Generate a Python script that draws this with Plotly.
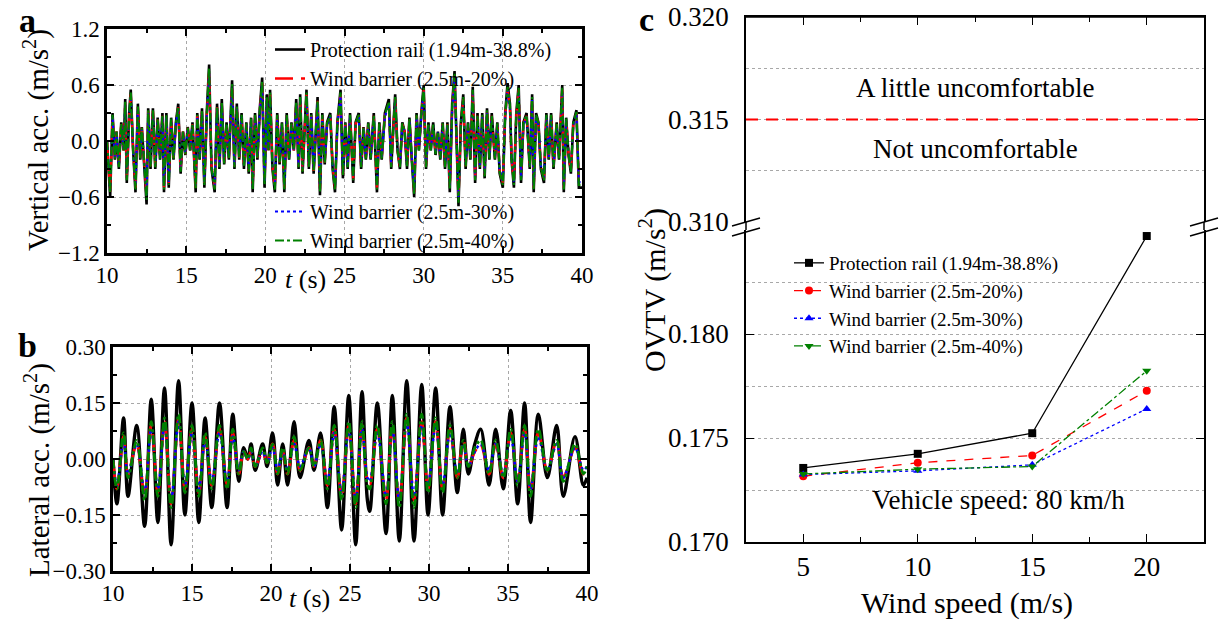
import plotly.graph_objects as go

SERIF = "Liberation Serif"
W, H = 1221, 622

def px(x):
    return x / W

def py(y):
    return 1 - y / H

names = ["Protection rail (1.94m-38.8%)", "Wind barrier (2.5m-20%)",
         "Wind barrier (2.5m-30%)", "Wind barrier (2.5m-40%)"]
colors = ["#000000", "#ff0000", "#0000ff", "#008000"]

# ---- panel a: vertical acceleration (local peaks / troughs)
ta = [10.0, 10.1, 10.2, 10.35, 10.5, 10.6, 10.75, 10.9, 11.05, 11.15,
      11.25, 11.4, 11.5, 11.65, 11.8, 11.95, 12.1, 12.2, 12.35, 12.5,
      12.6, 12.75, 12.9, 13.05, 13.2, 13.35, 13.5, 13.6, 13.75, 13.9,
      14.05, 14.2, 14.35, 14.5, 14.65, 14.8, 14.95, 15.1, 15.25, 15.4,
      15.6, 15.7, 15.85, 16.0, 16.15, 16.3, 16.45, 16.6, 16.8, 16.95,
      17.1, 17.25, 17.4, 17.55, 17.7, 17.9, 18.05, 18.2, 18.35, 18.5,
      18.65, 18.8, 18.95, 19.1, 19.2, 19.35, 19.5, 19.65, 19.8, 19.95,
      20.1, 20.2, 20.3, 20.45, 20.6, 20.75, 20.9, 21.05, 21.2, 21.35,
      21.5, 21.65, 21.8, 21.95, 22.1, 22.2, 22.35, 22.5, 22.6, 22.75,
      22.9, 23.05, 23.2, 23.3, 23.45, 23.6, 23.75, 23.9, 24.1, 24.25,
      24.4, 24.55, 24.75, 24.9, 25.05, 25.2, 25.35, 25.55, 25.7, 25.9,
      26.05, 26.2, 26.35, 26.5, 26.65, 26.85, 27.05, 27.2, 27.35, 27.55,
      27.8, 27.95, 28.1, 28.2, 28.35, 28.5, 28.65, 28.8, 28.95, 29.1,
      29.25, 29.4, 29.55, 29.7, 29.85, 30.0, 30.15, 30.3, 30.45, 30.6,
      30.75, 30.9, 31.05, 31.2, 31.35, 31.5, 31.65, 31.8, 31.95, 32.2,
      32.35, 32.5, 32.65, 32.8, 32.95, 33.1, 33.25, 33.4, 33.55, 33.7,
      33.85, 34.0, 34.15, 34.3, 34.5, 34.65, 34.8, 35.0, 35.15, 35.3,
      35.45, 35.55, 35.7, 35.85, 36.0, 36.15, 36.3, 36.5, 36.7, 36.85,
      36.95, 37.1, 37.25, 37.4, 37.6, 37.75, 37.9, 38.05, 38.2, 38.4,
      38.55, 38.75, 38.85, 39.0, 39.15, 39.3, 39.45, 39.65, 39.8, 40.0]

a_rail = [0.0, -0.35, -0.6, 0.3, -0.2, 0.1, -0.3, 0.2, -0.1, 0.45,
          -0.45, 0.3, 0.55, -0.1, -0.55, 0.4, -0.2, 0.15, -0.3, -0.68,
          0.35, -0.3, 0.35, -0.3, 0.25, -0.2, 0.3, -0.55, 0.3, -0.5,
          0.25, -0.2, 0.2, 0.4, -0.35, 0.1, -0.15, 0.15, -0.1, 0.2,
          -0.55, 0.3, -0.2, 0.35, -0.5, 0.3, 0.82, -0.3, -0.55, 0.4,
          -0.3, 0.45, -0.25, 0.2, -0.2, 0.65, -0.3, 0.4, -0.2, 0.3,
          -0.3, 0.2, -0.35, 0.25, -0.55, 0.3, -0.2, 0.35, 0.68, -0.5,
          0.5, -0.1, 0.55, -0.3, -0.55, 0.3, -0.25, 0.2, -0.55, 0.3,
          -0.2, 0.2, -0.1, 0.45, -0.3, 0.5, -0.35, 0.3, 0.55, -0.3,
          0.3, -0.35, 0.25, 0.47, -0.58, 0.3, -0.25, 0.2, 0.3, -0.3,
          -0.55, 0.2, 0.55, -0.4, 0.2, -0.3, 0.3, -0.45, 0.2, 0.3,
          -0.3, 0.15, -0.2, 0.2, -0.2, 0.3, -0.55, 0.2, -0.2, 0.3,
          0.45, -0.3, 0.2, 0.5, -0.1, -0.3, 0.2, 0.1, -0.3, 0.25,
          -0.2, -0.6, 0.3, -0.1, 0.3, 0.6, -0.3, 0.2, -0.1, 0.2,
          -0.15, 0.1, -0.2, 0.2, -0.3, 0.2, -0.55, 0.4, 0.75, -0.7,
          0.2, 0.5, -0.3, 0.2, -0.2, 0.58, -0.45, 0.3, -0.3, 0.3,
          -0.4, 0.35, -0.2, 0.3, -0.2, 0.2, -0.35, -0.5, 0.3, 0.62,
          0.4, -0.2, -0.5, 0.3, 0.6, -0.45, 0.2, 0.3, -0.3, 0.5,
          -0.55, 0.3, 0.2, -0.3, -0.45, 0.3, -0.2, 0.3, -0.3, 0.2,
          -0.2, 0.6, -0.55, 0.25, -0.15, -0.35, 0.2, 0.33, -0.5, -0.5]

a_20 = [0.0, -0.3, -0.55, 0.27, -0.18, 0.1, -0.27, 0.18, -0.1, 0.4,
        -0.4, 0.27, 0.5, -0.1, -0.5, 0.36, -0.18, 0.14, -0.27, -0.6,
        0.32, -0.27, 0.32, -0.27, 0.23, -0.18, 0.27, -0.5, 0.27, -0.45,
        0.23, -0.18, 0.18, 0.36, -0.32, 0.1, -0.14, 0.14, -0.1, 0.18,
        -0.5, 0.27, -0.18, 0.32, -0.45, 0.27, 0.75, -0.27, -0.5, 0.36,
        -0.27, 0.4, -0.23, 0.18, -0.18, 0.6, -0.27, 0.36, -0.18, 0.27,
        -0.27, 0.18, -0.32, 0.23, -0.5, 0.27, -0.18, 0.32, 0.62, -0.45,
        0.45, -0.1, 0.5, -0.27, -0.5, 0.27, -0.23, 0.18, -0.5, 0.27,
        -0.18, 0.18, -0.1, 0.4, -0.27, 0.45, -0.32, 0.27, 0.5, -0.27,
        0.27, -0.32, 0.23, 0.43, -0.52, 0.27, -0.23, 0.18, 0.27, -0.27,
        -0.5, 0.18, 0.5, -0.36, 0.18, -0.27, 0.27, -0.4, 0.18, 0.27,
        -0.27, 0.14, -0.18, 0.18, -0.18, 0.27, -0.5, 0.18, -0.18, 0.27,
        0.4, -0.27, 0.18, 0.45, -0.1, -0.27, 0.18, 0.1, -0.27, 0.23,
        -0.18, -0.55, 0.27, -0.1, 0.27, 0.55, -0.27, 0.18, -0.1, 0.18,
        -0.14, 0.1, -0.18, 0.18, -0.27, 0.18, -0.5, 0.36, 0.7, -0.62,
        0.18, 0.45, -0.27, 0.18, -0.18, 0.52, -0.4, 0.27, -0.27, 0.27,
        -0.36, 0.32, -0.18, 0.27, -0.18, 0.18, -0.32, -0.45, 0.27, 0.56,
        0.36, -0.18, -0.45, 0.27, 0.55, -0.4, 0.18, 0.27, -0.27, 0.45,
        -0.5, 0.27, 0.18, -0.27, -0.4, 0.27, -0.18, 0.27, -0.27, 0.18,
        -0.18, 0.55, -0.5, 0.23, -0.14, -0.32, 0.18, 0.3, -0.45, -0.45]

a_30 = [0.0, -0.3, -0.53, 0.26, -0.17, 0.09, -0.26, 0.17, -0.09, 0.39,
        -0.39, 0.26, 0.48, -0.09, -0.48, 0.35, -0.17, 0.13, -0.26, -0.58,
        0.3, -0.26, 0.3, -0.26, 0.22, -0.17, 0.26, -0.48, 0.26, -0.44,
        0.22, -0.17, 0.17, 0.35, -0.3, 0.09, -0.13, 0.13, -0.09, 0.17,
        -0.48, 0.26, -0.17, 0.3, -0.44, 0.26, 0.72, -0.26, -0.48, 0.35,
        -0.26, 0.39, -0.22, 0.17, -0.17, 0.57, -0.26, 0.35, -0.17, 0.26,
        -0.26, 0.17, -0.3, 0.22, -0.48, 0.26, -0.17, 0.3, 0.6, -0.44,
        0.44, -0.09, 0.48, -0.26, -0.48, 0.26, -0.22, 0.17, -0.48, 0.26,
        -0.17, 0.17, -0.09, 0.39, -0.26, 0.44, -0.3, 0.26, 0.48, -0.26,
        0.26, -0.3, 0.22, 0.41, -0.51, 0.26, -0.22, 0.17, 0.26, -0.26,
        -0.48, 0.17, 0.48, -0.35, 0.17, -0.26, 0.26, -0.39, 0.17, 0.26,
        -0.26, 0.13, -0.17, 0.17, -0.17, 0.26, -0.48, 0.17, -0.17, 0.26,
        0.39, -0.26, 0.17, 0.44, -0.09, -0.26, 0.17, 0.09, -0.26, 0.22,
        -0.17, -0.53, 0.26, -0.09, 0.26, 0.53, -0.26, 0.17, -0.09, 0.17,
        -0.13, 0.09, -0.17, 0.17, -0.26, 0.17, -0.48, 0.35, 0.66, -0.6,
        0.17, 0.44, -0.26, 0.17, -0.17, 0.51, -0.39, 0.26, -0.26, 0.26,
        -0.35, 0.3, -0.17, 0.26, -0.17, 0.17, -0.3, -0.44, 0.26, 0.55,
        0.35, -0.17, -0.44, 0.26, 0.53, -0.39, 0.17, 0.26, -0.26, 0.44,
        -0.48, 0.26, 0.17, -0.26, -0.39, 0.26, -0.17, 0.26, -0.26, 0.17,
        -0.17, 0.53, -0.48, 0.22, -0.13, -0.3, 0.17, 0.29, -0.44, -0.44]

a_40 = [0.0, -0.32, -0.56, 0.28, -0.19, 0.1, -0.28, 0.19, -0.1, 0.42,
        -0.42, 0.28, 0.52, -0.1, -0.52, 0.37, -0.19, 0.14, -0.28, -0.63,
        0.33, -0.28, 0.33, -0.28, 0.24, -0.19, 0.28, -0.52, 0.28, -0.47,
        0.24, -0.19, 0.19, 0.37, -0.33, 0.1, -0.14, 0.14, -0.1, 0.19,
        -0.52, 0.28, -0.19, 0.33, -0.47, 0.28, 0.78, -0.28, -0.52, 0.37,
        -0.28, 0.42, -0.24, 0.19, -0.19, 0.61, -0.28, 0.37, -0.19, 0.28,
        -0.28, 0.19, -0.33, 0.24, -0.52, 0.28, -0.19, 0.33, 0.64, -0.47,
        0.47, -0.1, 0.52, -0.28, -0.52, 0.28, -0.24, 0.19, -0.52, 0.28,
        -0.19, 0.19, -0.1, 0.42, -0.28, 0.47, -0.33, 0.28, 0.52, -0.28,
        0.28, -0.33, 0.24, 0.44, -0.54, 0.28, -0.24, 0.19, 0.28, -0.28,
        -0.52, 0.19, 0.52, -0.37, 0.19, -0.28, 0.28, -0.42, 0.19, 0.28,
        -0.28, 0.14, -0.19, 0.19, -0.19, 0.28, -0.52, 0.19, -0.19, 0.28,
        0.42, -0.28, 0.19, 0.47, -0.1, -0.28, 0.19, 0.1, -0.28, 0.24,
        -0.19, -0.57, 0.28, -0.1, 0.28, 0.57, -0.28, 0.19, -0.1, 0.19,
        -0.14, 0.1, -0.19, 0.19, -0.28, 0.19, -0.52, 0.38, 0.72, -0.66,
        0.19, 0.47, -0.28, 0.19, -0.19, 0.55, -0.42, 0.28, -0.28, 0.28,
        -0.38, 0.33, -0.19, 0.28, -0.19, 0.19, -0.33, -0.47, 0.28, 0.58,
        0.38, -0.19, -0.47, 0.28, 0.57, -0.42, 0.19, 0.28, -0.28, 0.47,
        -0.52, 0.28, 0.19, -0.28, -0.42, 0.28, -0.19, 0.28, -0.28, 0.19,
        -0.19, 0.57, -0.52, 0.24, -0.14, -0.33, 0.19, 0.31, -0.47, -0.47]

# ---- panel b: lateral acceleration (extremes)
tb = [10.0, 10.25, 10.67, 10.95, 11.5, 12.0, 12.42, 12.84, 13.26, 13.68,
      14.15, 14.55, 15.0, 15.43, 15.83, 16.25, 16.74, 17.22, 17.58, 17.96,
      18.27, 18.53, 18.74, 19.0, 19.47, 19.75, 20.1, 20.42, 20.74, 21.05,
      21.46, 21.84, 22.4, 22.72, 23.14, 23.57, 24.0, 24.47, 24.92, 25.36,
      25.76, 26.1, 26.25, 26.73, 27.28, 27.68, 28.12, 28.59, 29.05, 29.54,
      29.94, 30.42, 30.86, 31.33, 31.79, 32.17, 32.49, 32.9, 33.27, 33.8,
      34.22, 34.7, 35.17, 35.61, 36.05, 36.43, 36.92, 37.49, 38.08, 38.5,
      39.24, 39.77, 40.0]

b_rail = [0.0, -0.12, 0.11, -0.10, 0.09, -0.18, 0.16, -0.17, 0.19, -0.23,
          0.21, -0.15, 0.15, -0.17, 0.11, -0.13, 0.15, -0.13, 0.12, -0.06,
          0.03, 0.0, 0.04, -0.03, 0.04, -0.02, 0.07, -0.07, 0.04, -0.07,
          0.10, -0.05, 0.05, -0.03, 0.07, -0.13, 0.14, -0.19, 0.17, -0.23,
          0.18, -0.11, -0.14, 0.15, -0.20, 0.17, -0.22, 0.21, -0.22, 0.20,
          -0.15, 0.19, -0.15, 0.14, -0.09, 0.08, -0.04, 0.04, 0.08, -0.07,
          0.08, -0.08, 0.13, -0.12, 0.15, -0.17, 0.12, -0.05, 0.09, -0.10,
          0.06, -0.07, -0.05]

b_20 = [0.0, -0.08, 0.06, -0.04, 0.04, -0.10, 0.09, -0.09, 0.10, -0.12,
        0.11, -0.08, 0.08, -0.09, 0.06, -0.07, 0.08, -0.07, 0.07, -0.04,
        0.02, 0.0, 0.02, -0.02, 0.02, -0.01, 0.04, -0.04, 0.02, -0.04,
        0.05, -0.03, 0.03, -0.02, 0.05, -0.07, 0.08, -0.10, 0.09, -0.12,
        0.09, -0.06, -0.07, 0.08, -0.11, 0.09, -0.12, 0.11, -0.11, 0.10,
        -0.08, 0.10, -0.08, 0.08, -0.05, 0.05, -0.02, 0.02, 0.04, -0.04,
        0.04, -0.05, 0.07, -0.06, 0.08, -0.09, 0.07, -0.03, 0.05, -0.05,
        0.03, -0.04, -0.02]

b_30 = [0.0, -0.07, 0.05, -0.04, 0.04, -0.09, 0.08, -0.08, 0.09, -0.11,
        0.10, -0.07, 0.07, -0.08, 0.05, -0.06, 0.07, -0.06, 0.06, -0.03,
        0.02, 0.0, 0.02, -0.02, 0.02, -0.01, 0.03, -0.03, 0.02, -0.03,
        0.04, -0.02, 0.03, -0.02, 0.04, -0.06, 0.07, -0.09, 0.08, -0.11,
        0.08, -0.05, -0.06, 0.07, -0.10, 0.08, -0.11, 0.10, -0.10, 0.09,
        -0.07, 0.09, -0.07, 0.07, -0.04, 0.04, -0.02, 0.02, 0.04, -0.03,
        0.04, -0.04, 0.06, -0.06, 0.07, -0.08, 0.06, -0.03, 0.04, -0.05,
        0.03, -0.03, -0.02]

b_40 = [0.0, -0.08, 0.07, -0.05, 0.05, -0.11, 0.10, -0.10, 0.11, -0.13,
        0.12, -0.09, 0.09, -0.10, 0.07, -0.08, 0.09, -0.08, 0.08, -0.04,
        0.02, 0.0, 0.03, -0.02, 0.03, -0.01, 0.04, -0.04, 0.03, -0.04,
        0.06, -0.03, 0.03, -0.02, 0.05, -0.08, 0.09, -0.11, 0.10, -0.13,
        0.10, -0.07, -0.08, 0.09, -0.12, 0.10, -0.13, 0.12, -0.13, 0.12,
        -0.09, 0.11, -0.09, 0.09, -0.05, 0.05, -0.02, 0.03, 0.05, -0.04,
        0.05, -0.05, 0.08, -0.07, 0.09, -0.10, 0.08, -0.03, 0.05, -0.06,
        0.04, -0.04, -0.02]

# ---- panel c: OVTV vs wind speed
wind = [5, 10, 15, 20]
c_rail = [0.17356, 0.17424, 0.17523, 0.18471]
c_20 = [0.17316, 0.17381, 0.17416, 0.17727]
c_30 = [0.17324, 0.17342, 0.17371, 0.17640]
c_40 = [0.17327, 0.17350, 0.17363, 0.17823]
comfort_limit = 0.315

fig = go.Figure()

dash_a = ["solid", "18px,8px", "dot", "dashdot"]
width_a = [2.6, 2.4, 2.2, 2.2]
for i, ys in enumerate([a_rail, a_20, a_30, a_40]):
    fig.add_trace(go.Scatter(
        x=ta, y=ys, mode="lines", name=names[i], xaxis="x", yaxis="y",
        line=dict(color=colors[i], width=width_a[i], dash=dash_a[i]),
        legend="legend" if i < 2 else "legend2"))

width_b = [3.4, 3.0, 2.6, 2.8]
for i, ys in enumerate([b_rail, b_20, b_30, b_40]):
    fig.add_trace(go.Scatter(
        x=tb, y=ys, mode="lines", name=names[i], xaxis="x2", yaxis="y2",
        line=dict(color=colors[i], width=width_b[i], dash=dash_a[i], shape="spline", smoothing=1.0),
        showlegend=False))

dash_c = ["solid", "dash", "dot", "dashdot"]
symbols = ["square", "circle", "triangle-up", "triangle-down"]
for i, ys in enumerate([c_rail, c_20, c_30, c_40]):
    fig.add_trace(go.Scatter(
        x=wind, y=ys, mode="lines+markers", name=names[i], xaxis="x3", yaxis="y3",
        line=dict(color=colors[i], width=1.3, dash=dash_c[i]),
        marker=dict(symbol=symbols[i], size=8, color=colors[i]),
        legend="legend3"))

tick_font = dict(family=SERIF, size=23, color="black")
grid = dict(showgrid=True, griddash="dot", gridcolor="#a8a8a8", gridwidth=1, zeroline=False,
            automargin=False)
frame = dict(showline=True, linecolor="black", linewidth=2.5, mirror="allticks",
             ticks="inside", ticklen=7, tickwidth=2, tickcolor="black", tickfont=tick_font)


def time_axis(dom, anchor):
    return dict(domain=dom, anchor=anchor, range=[10, 40],
                tickvals=[10, 15, 20, 25, 30, 35, 40],
                minor=dict(tickvals=[12.5, 17.5, 22.5, 27.5, 32.5, 37.5], ticks="inside",
                           ticklen=4, tickwidth=2, tickcolor="black", showgrid=False),
                **frame, **grid)


c_tick_font = dict(family=SERIF, size=27, color="black")
c_frame = dict(showline=True, linecolor="black", linewidth=1.5, ticks="inside",
               ticklen=8, tickwidth=1.3, tickcolor="black", tickfont=c_tick_font,
               automargin=False)
c_minor_x = dict(tickvals=[7.5, 12.5, 17.5], ticks="inside", ticklen=5, tickwidth=1.3,
                 tickcolor="black", showgrid=False)
c_grid = dict(showgrid=True, griddash="dot", gridcolor="#a8a8a8", gridwidth=1, zeroline=False)
leg_font = dict(family=SERIF, size=20, color="black")

fig.update_layout(
    template="none",
    width=W, height=H, margin=dict(l=0, r=0, t=0, b=0, autoexpand=False),
    paper_bgcolor="white", plot_bgcolor="white",
    font=dict(family=SERIF, color="black"),
    xaxis=time_axis([px(107), px(582)], "y"),
    yaxis=dict(domain=[py(253), py(29)], anchor="x", range=[-1.2, 1.2],
               tickvals=[-1.2, -0.6, 0, 0.6, 1.2], tickformat=".1f",
               minor=dict(tickvals=[-0.9, -0.3, 0.3, 0.9], ticks="inside", ticklen=4,
                          tickwidth=2, tickcolor="black", showgrid=False),
               **frame, **grid),
    xaxis2=time_axis([px(113), px(587)], "y2"),
    yaxis2=dict(domain=[py(571), py(347)], anchor="x2", range=[-0.3, 0.3],
                tickvals=[-0.3, -0.15, 0, 0.15, 0.3], tickformat=".2f",
                minor=dict(tickvals=[-0.225, -0.075, 0.075, 0.225], ticks="inside", ticklen=4,
                           tickwidth=2, tickcolor="black", showgrid=False),
                **frame, **grid),
    xaxis3=dict(domain=[px(746), px(1204)], anchor="y3", range=[2.5, 22.5],
                tickvals=[5, 10, 15, 20], minor=c_minor_x, showgrid=False, zeroline=False,
                **c_frame),
    yaxis3=dict(domain=[py(542), py(230)], anchor="x3", range=[0.170, 0.185],
                tickvals=[0.170, 0.175, 0.180], tickformat=".3f", mirror="allticks",
                ticklabelstandoff=10,
                minor=dict(tick0=0.170, dtick=0.0025, ticks="", showgrid=True,
                           griddash="dot", gridcolor="#a8a8a8", gridwidth=1),
                **c_frame, **c_grid),
    xaxis4=dict(domain=[px(746), px(1204)], anchor="y4", side="top", range=[2.5, 22.5],
                tickvals=[5, 10, 15, 20], minor=c_minor_x, showticklabels=False,
                showgrid=False, zeroline=False, **c_frame),
    yaxis4=dict(domain=[py(222), py(17)], anchor="x4", range=[0.310, 0.320],
                tickvals=[0.310, 0.315, 0.320], tickformat=".3f", mirror="allticks",
                ticklabelstandoff=10,
                minor=dict(tick0=0.310, dtick=0.0025, ticks="", showgrid=True,
                           griddash="dot", gridcolor="#a8a8a8", gridwidth=1),
                **c_frame, **c_grid),
    legend=dict(x=px(270), y=py(30), xanchor="left", yanchor="top",
                font=leg_font, bgcolor="rgba(0,0,0,0)", tracegroupgap=0),
    legend2=dict(x=px(270), y=py(192), xanchor="left", yanchor="top",
                 font=leg_font, bgcolor="rgba(0,0,0,0)"),
    legend3=dict(x=px(789), y=py(244), xanchor="left", yanchor="top",
                 font=dict(family=SERIF, size=19, color="black"), bgcolor="rgba(0,0,0,0)"),
)

# comfort threshold
fig.add_shape(type="line", xref="x4", yref="y4", x0=2.5, x1=22.5, y0=comfort_limit, y1=comfort_limit,
              line=dict(color="#ff0000", width=2.2, dash="12px,8px"))

# top frame of panel c
fig.add_shape(type="line", xref="paper", yref="paper", x0=px(746), x1=px(1204), y0=py(17), y1=py(17),
              line=dict(color="black", width=1.5))

# axis-break marks
for xb in [746, 1204]:
    fig.add_shape(type="line", xref="paper", yref="paper", x0=px(xb), x1=px(xb), y0=py(230), y1=py(222),
                  line=dict(color="black", width=1.5))
    for yo in [0, 10]:
        fig.add_shape(type="line", xref="paper", yref="paper",
                      x0=px(xb - 14), y0=py(226 + yo), x1=px(xb + 14), y1=py(218 + yo),
                      line=dict(color="black", width=1.5))

ann = [
    dict(x=27, y=21, text="<b>a</b>", size=34),
    dict(x=27, y=345, text="<b>b</b>", size=34),
    dict(x=646, y=19, text="<b>c</b>", size=34),
    dict(x=305, y=280, text="<i>t</i> (s)", size=26),
    dict(x=309, y=598, text="<i>t</i> (s)", size=26),
    dict(x=967, y=603, text="Wind speed (m/s)", size=30),
    dict(x=975, y=88, text="A little uncomfortable", size=27),
    dict(x=975, y=149, text="Not uncomfortable", size=27),
    dict(x=998, y=500, text="Vehicle speed: 80 km/h", size=27),
]
for a in ann:
    fig.add_annotation(x=px(a["x"]), y=py(a["y"]), xref="paper", yref="paper", text=a["text"],
                       xanchor="center", yanchor="middle", showarrow=False,
                       font=dict(family=SERIF, size=a["size"], color="black"))

for x, y, text, size in [(37, 140, "Vertical acc. (m/s<sup>2</sup>)", 29),
                         (37, 470, "Lateral acc. (m/s<sup>2</sup>)", 29),
                         (652, 290, "OVTV (m/s<sup>2</sup>)", 30)]:
    fig.add_annotation(x=px(x), y=py(y), xref="paper", yref="paper", text=text, textangle=-90,
                       xanchor="center", yanchor="middle", showarrow=False,
                       font=dict(family=SERIF, size=size, color="black"))

# the page body has a default 8px margin; drop it so the figure fills the window
fig.write_html("out.html", config={"displayModeBar": False},
               post_script="document.body.style.margin='0';")
